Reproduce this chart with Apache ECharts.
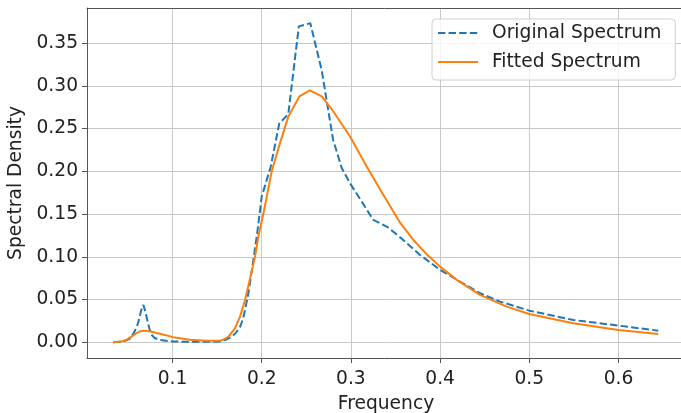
<!DOCTYPE html>
<html>
<head>
<meta charset="utf-8">
<script src="https://cdn.jsdelivr.net/npm/echarts@6/dist/echarts.min.js"></script>
<style>
html,body{margin:0;padding:0;background:#fff;}
#chart{width:681px;height:413px;}
</style>
</head>
<body>
<div id="chart"></div>
<script>
// ---- data ----
const origFreq = [0.0336,0.0448,0.0520,0.0560,0.0600,0.0628,0.0650,0.0673,0.0695,0.0717,0.0740,0.0767,0.0800,0.0860,0.0950,0.1010,0.1150,0.1300,0.1450,0.1533,0.1600,0.1664,0.1710,0.1757,0.1790,0.1813,0.1850,0.1906,0.1950,0.2000,0.2100,0.2197,0.2298,0.2416,0.2545,0.2673,0.2800,0.2897,0.2990,0.3121,0.3251,0.3401,0.3543,0.3775,0.4000,0.4223,0.4448,0.4672,0.5000,0.5493,0.6000,0.6446];
const origVals = [0.0000,0.0008,0.0040,0.0100,0.0180,0.0280,0.0380,0.0437,0.0360,0.0260,0.0160,0.0085,0.0050,0.0027,0.0015,0.0010,0.0006,0.0005,0.0006,0.0010,0.0030,0.0066,0.0110,0.0180,0.0270,0.0380,0.0570,0.0960,0.1280,0.1705,0.2050,0.2560,0.2670,0.3696,0.3733,0.3180,0.2370,0.2040,0.1860,0.1646,0.1432,0.1354,0.1237,0.1022,0.0847,0.0710,0.0574,0.0476,0.0370,0.0261,0.0195,0.0136];

const fitFreq = [0.0336,0.0420,0.0487,0.0540,0.0580,0.0630,0.0673,0.0720,0.0767,0.0879,0.1009,0.1196,0.1383,0.1533,0.1580,0.1626,0.1700,0.1757,0.1813,0.1870,0.1925,0.1962,0.2018,0.2112,0.2205,0.2298,0.2422,0.2541,0.2673,0.2803,0.2990,0.3177,0.3363,0.3543,0.3700,0.3850,0.4000,0.4186,0.4448,0.4747,0.5000,0.5493,0.6000,0.6446];
const fitVals = [0.0000,0.0008,0.0030,0.0065,0.0097,0.0125,0.0136,0.0133,0.0124,0.0094,0.0060,0.0030,0.0018,0.0019,0.0035,0.0066,0.0164,0.0300,0.0495,0.0750,0.1000,0.1237,0.1500,0.2000,0.2330,0.2640,0.2876,0.2946,0.2876,0.2700,0.2408,0.2056,0.1725,0.1412,0.1198,0.1030,0.0885,0.0730,0.0554,0.0417,0.0331,0.0222,0.0144,0.0097];

const xTicks = [0.1,0.2,0.3,0.4,0.5,0.6];
const yTicks = [0.00,0.05,0.10,0.15,0.20,0.25,0.30,0.35];

const seriesNames = ['Original Spectrum','Fitted Spectrum'];
const xTitle = 'Frequency';
const yTitle = 'Spectral Density';

// ---- chart ----
const FONT = 'DejaVu Sans';
const FS = 18.67;
const X_MIN = 0.0041, X_MAX = 0.6746;
const chart = echarts.init(document.getElementById('chart'), null, {renderer:'canvas'});
const zip = (a,b) => a.map((v,i)=>[v,b[i]]);
const gridStyle = {color:'#c8c8c8', width:1};

const option = {
  animation:false,
  backgroundColor:'#ffffff',
  textStyle:{fontFamily:FONT},
  grid:{left:87, top:8, width:598, height:350, show:false, containLabel:false, outerBoundsMode:'none'},
  legend:{
    orient:'vertical', left:432, top:19,
    padding:[4,14,8,5],
    itemWidth:40, itemHeight:20, itemGap:9,
    backgroundColor:'rgba(255,255,255,0.8)',
    borderColor:'#d0d0d0', borderWidth:1, borderRadius:4,
    itemStyle:{opacity:0},
    textStyle:{fontFamily:FONT, fontSize:FS, color:'#222', padding:[0,0,0,9], lineHeight:20},
    data:seriesNames
  },
  xAxis:[{
    type:'value', min:X_MIN, max:X_MAX,
    name:xTitle, nameLocation:'middle', nameGap:37,
    nameTextStyle:{fontFamily:FONT, fontSize:FS, color:'#222'},
    axisLine:{show:true, onZero:false, lineStyle:{color:'#555', width:1}},
    axisTick:{show:true, length:5, lineStyle:{color:'#555', width:1}, customValues:xTicks},
    axisLabel:{fontFamily:FONT, fontSize:FS, color:'#222', margin:12, customValues:xTicks,
      formatter:v=>Number(v).toFixed(1)},
    splitLine:{show:false}
  },{
    // top spine + vertical grid lines
    type:'value', position:'top', min:X_MIN, max:X_MAX,
    axisLine:{show:true, onZero:false, lineStyle:{color:'#555', width:1}},
    axisTick:{show:false, customValues:[X_MIN].concat(xTicks, [X_MAX])},
    axisLabel:{show:false, customValues:[X_MIN].concat(xTicks, [X_MAX])},
    splitLine:{show:true, showMinLine:false, showMaxLine:false, lineStyle:gridStyle}
  }],
  yAxis:{
    type:'value', min:-0.0184, max:0.3911,
    name:yTitle, nameLocation:'middle', nameGap:51,
    nameTextStyle:{fontFamily:FONT, fontSize:FS, color:'#222'},
    axisLine:{show:true, onZero:false, lineStyle:{color:'#555', width:1}},
    axisTick:{show:true, length:5, lineStyle:{color:'#555', width:1}, customValues:yTicks},
    axisLabel:{fontFamily:FONT, fontSize:FS, color:'#222', margin:9, customValues:yTicks,
      formatter:v=>Number(v).toFixed(2)},
    splitLine:{show:true, lineStyle:gridStyle}
  },
  series:[
    {name:seriesNames[0], type:'line', data:zip(origFreq,origVals), symbol:'none', smooth:false,
      lineStyle:{color:'#1f77b4', width:2, type:[7.4,3.2]}, itemStyle:{color:'#1f77b4'}, z:3},
    {name:seriesNames[1], type:'line', data:zip(fitFreq,fitVals), symbol:'none', smooth:false,
      lineStyle:{color:'#ff7f0e', width:2}, itemStyle:{color:'#ff7f0e'}, z:4}
  ]
};
chart.setOption(option);
</script>
</body>
</html>
